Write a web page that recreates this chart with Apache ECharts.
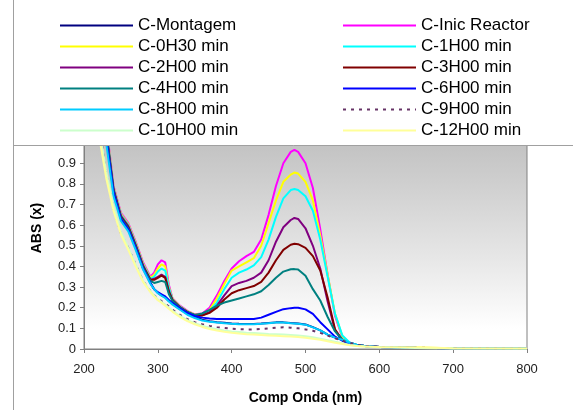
<!DOCTYPE html>
<html>
<head>
<meta charset="utf-8">
<script src="https://cdn.jsdelivr.net/npm/echarts@6/dist/echarts.min.js"></script>
<style>
  html, body { margin: 0; padding: 0; background: #ffffff; }
  #chart { width: 573px; height: 410px; }
</style>
</head>
<body>
<div id="chart"></div>
<script>
// Wavelength grid (nm) shared by every spectrum
var wavelengths = [220, 230, 240, 250, 260, 270, 280, 290, 295, 300, 305, 310, 315, 320, 330, 340, 350, 360, 370, 380, 390, 400, 410, 420, 430, 440, 450, 460, 470, 480, 485, 490, 500, 510, 520, 530, 540, 550, 560, 570, 580, 600, 650, 700, 800];

// Absorbance of each sample
var cMontagem = [1.38, 1.04, 0.77, 0.635, 0.585, 0.49, 0.39, 0.32, 0.29, 0.272, 0.26, 0.25, 0.233, 0.218, 0.193, 0.17, 0.155, 0.142, 0.135, 0.13, 0.127, 0.124, 0.122, 0.121, 0.121, 0.123, 0.126, 0.129, 0.129, 0.126, 0.125, 0.123, 0.119, 0.106, 0.09, 0.07, 0.055, 0.045, 0.03, 0.02, 0.015, 0.01, 0.006, 0.004, 0.002];
var cInicReactor = [1.45, 1.09, 0.79, 0.66, 0.61, 0.52, 0.42, 0.35, 0.37, 0.41, 0.43, 0.42, 0.31, 0.245, 0.21, 0.185, 0.168, 0.172, 0.20, 0.26, 0.33, 0.39, 0.425, 0.45, 0.47, 0.53, 0.65, 0.79, 0.90, 0.955, 0.965, 0.955, 0.90, 0.78, 0.58, 0.36, 0.16, 0.055, 0.025, 0.018, 0.014, 0.01, 0.006, 0.004, 0.002];
var c0H30 = [1.43, 1.08, 0.785, 0.655, 0.605, 0.515, 0.415, 0.345, 0.36, 0.39, 0.41, 0.40, 0.30, 0.243, 0.207, 0.183, 0.166, 0.168, 0.19, 0.245, 0.315, 0.38, 0.40, 0.42, 0.44, 0.50, 0.61, 0.72, 0.81, 0.845, 0.855, 0.85, 0.81, 0.72, 0.55, 0.36, 0.17, 0.06, 0.028, 0.02, 0.015, 0.01, 0.007, 0.004, 0.002];
var c1H00 = [1.42, 1.07, 0.78, 0.65, 0.60, 0.51, 0.41, 0.34, 0.35, 0.375, 0.39, 0.38, 0.295, 0.24, 0.205, 0.181, 0.165, 0.165, 0.185, 0.225, 0.29, 0.345, 0.37, 0.385, 0.405, 0.445, 0.53, 0.64, 0.73, 0.77, 0.775, 0.77, 0.74, 0.67, 0.53, 0.35, 0.17, 0.065, 0.03, 0.02, 0.015, 0.01, 0.006, 0.004, 0.002];
var c2H00 = [1.41, 1.06, 0.775, 0.645, 0.595, 0.505, 0.405, 0.335, 0.34, 0.35, 0.36, 0.35, 0.28, 0.237, 0.203, 0.18, 0.164, 0.164, 0.178, 0.21, 0.26, 0.305, 0.32, 0.33, 0.345, 0.37, 0.43, 0.52, 0.59, 0.625, 0.635, 0.63, 0.585, 0.50, 0.39, 0.23, 0.09, 0.042, 0.024, 0.018, 0.014, 0.01, 0.006, 0.004, 0.002];
var c3H00 = [1.40, 1.055, 0.77, 0.64, 0.59, 0.50, 0.40, 0.335, 0.335, 0.345, 0.355, 0.345, 0.275, 0.235, 0.202, 0.179, 0.163, 0.162, 0.175, 0.20, 0.24, 0.27, 0.285, 0.295, 0.305, 0.325, 0.37, 0.43, 0.48, 0.505, 0.51, 0.508, 0.49, 0.45, 0.38, 0.25, 0.096, 0.042, 0.024, 0.018, 0.014, 0.01, 0.006, 0.004, 0.002];
var c4H00 = [1.39, 1.05, 0.765, 0.635, 0.585, 0.495, 0.395, 0.33, 0.32, 0.325, 0.33, 0.325, 0.265, 0.232, 0.2, 0.178, 0.165, 0.172, 0.19, 0.21, 0.225, 0.235, 0.245, 0.255, 0.265, 0.28, 0.31, 0.345, 0.375, 0.386, 0.387, 0.385, 0.355, 0.29, 0.235, 0.155, 0.085, 0.045, 0.025, 0.018, 0.014, 0.01, 0.006, 0.004, 0.002];
var c6H00 = [1.36, 1.03, 0.76, 0.63, 0.58, 0.49, 0.39, 0.32, 0.29, 0.275, 0.265, 0.255, 0.238, 0.222, 0.197, 0.175, 0.16, 0.152, 0.148, 0.145, 0.145, 0.145, 0.145, 0.145, 0.145, 0.152, 0.166, 0.18, 0.193, 0.198, 0.2, 0.2, 0.192, 0.17, 0.13, 0.095, 0.06, 0.04, 0.025, 0.018, 0.014, 0.01, 0.006, 0.004, 0.002];
var c8H00 = [1.30, 1.0, 0.74, 0.62, 0.57, 0.48, 0.385, 0.315, 0.29, 0.27, 0.258, 0.247, 0.23, 0.215, 0.19, 0.166, 0.15, 0.138, 0.132, 0.128, 0.125, 0.122, 0.12, 0.12, 0.12, 0.122, 0.125, 0.128, 0.128, 0.125, 0.124, 0.122, 0.118, 0.105, 0.09, 0.07, 0.055, 0.045, 0.03, 0.02, 0.015, 0.01, 0.006, 0.004, 0.002];
var c9H00 = [1.10, 0.85, 0.68, 0.56, 0.49, 0.41, 0.33, 0.28, 0.26, 0.245, 0.232, 0.22, 0.205, 0.19, 0.165, 0.145, 0.13, 0.12, 0.112, 0.106, 0.102, 0.098, 0.096, 0.095, 0.095, 0.097, 0.1, 0.103, 0.105, 0.103, 0.101, 0.1, 0.095, 0.088, 0.078, 0.065, 0.052, 0.04, 0.03, 0.02, 0.015, 0.01, 0.006, 0.004, 0.002];
var c10H00 = [1.08, 0.86, 0.69, 0.57, 0.49, 0.41, 0.33, 0.28, 0.26, 0.24, 0.228, 0.215, 0.2, 0.185, 0.16, 0.14, 0.125, 0.113, 0.103, 0.096, 0.09, 0.085, 0.082, 0.079, 0.077, 0.075, 0.073, 0.072, 0.07, 0.068, 0.067, 0.066, 0.062, 0.057, 0.05, 0.043, 0.035, 0.028, 0.02, 0.015, 0.012, 0.008, 0.005, 0.003, 0.002];
var c12H00 = [1.04, 0.83, 0.67, 0.555, 0.48, 0.40, 0.325, 0.275, 0.255, 0.236, 0.224, 0.21, 0.195, 0.18, 0.155, 0.135, 0.12, 0.107, 0.097, 0.09, 0.084, 0.079, 0.075, 0.072, 0.07, 0.068, 0.066, 0.064, 0.062, 0.06, 0.059, 0.058, 0.055, 0.05, 0.045, 0.038, 0.03, 0.024, 0.018, 0.014, 0.012, 0.01, 0.008, 0.004, 0.002];

var seriesNames = ['C-Montagem', 'C-Inic Reactor', 'C-0H30 min', 'C-1H00 min', 'C-2H00 min', 'C-3H00 min', 'C-4H00 min', 'C-6H00 min', 'C-8H00 min', 'C-9H00 min', 'C-10H00 min', 'C-12H00 min'];
var seriesValues = [cMontagem, cInicReactor, c0H30, c1H00, c2H00, c3H00, c4H00, c6H00, c8H00, c9H00, c10H00, c12H00];
var seriesColors = ['#000080', '#ff00ff', '#ffff00', '#00ffff', '#800080', '#800000', '#008080', '#0000ff', '#00ccff', '#663366', '#ccffcc', '#ffff99'];

var xTicks = [200, 300, 400, 500, 600, 700, 800];
var yTicks = [0, 0.1, 0.2, 0.3, 0.4, 0.5, 0.6, 0.7, 0.8, 0.9, 1];

var FONT = '"Liberation Sans", Arial, sans-serif';

var series = seriesNames.map(function (name, i) {
  return {
    name: name,
    type: 'line',
    symbol: 'none',
    clip: true,
    data: wavelengths.map(function (w, j) { return [w, seriesValues[i][j]]; }),
    lineStyle: {
      color: seriesColors[i],
      width: 2,
      type: name === 'C-9H00 min' ? [3, 5] : 'solid'
    },
    itemStyle: { color: seriesColors[i] }
  };
});

// Legend entries show only the line sample, no marker
var legendBase = {
  orient: 'vertical',
  top: 17,
  padding: 0,
  itemWidth: 73,
  itemHeight: 14,
  itemGap: 4,
  selectedMode: false,
  z: 10,
  itemStyle: { opacity: 0 },
  textStyle: { fontSize: 17, lineHeight: 17, color: '#000', fontFamily: FONT }
};

var chart = echarts.init(document.getElementById('chart'), null, { renderer: 'canvas' });
chart.setOption({
  animation: false,
  backgroundColor: '#ffffff',
  grid: {
    left: 84, right: 46, top: 142.6, bottom: 60,
    show: true,
    borderColor: '#808080',
    borderWidth: 1,
    backgroundColor: {
      type: 'linear', x: 0, y: 0, x2: 0, y2: 1,
      colorStops: [
        { offset: 0, color: '#c2c2c2' },
        { offset: 0.55, color: '#e6e6e6' },
        { offset: 0.9, color: '#ffffff' },
        { offset: 1, color: '#ffffff' }
      ]
    }
  },
  legend: [
    Object.assign({}, legendBase, {
      left: 59,
      data: [seriesNames[0], seriesNames[2], seriesNames[4], seriesNames[6], seriesNames[8], seriesNames[10]]
    }),
    Object.assign({}, legendBase, {
      left: 342,
      data: [seriesNames[1], seriesNames[3], seriesNames[5], seriesNames[7], seriesNames[9], seriesNames[11]]
    })
  ],
  xAxis: {
    type: 'value',
    min: xTicks[0],
    max: xTicks[xTicks.length - 1],
    interval: 100,
    name: 'Comp Onda (nm)',
    nameLocation: 'middle',
    nameGap: 42,
    nameTextStyle: { fontSize: 14, fontWeight: 'bold', color: '#000', fontFamily: FONT },
    axisLine: { lineStyle: { color: '#808080', width: 1 } },
    axisTick: { show: true, length: 4, lineStyle: { color: '#808080' } },
    axisLabel: { margin: 14, fontSize: 13, color: '#222', fontFamily: FONT },
    splitLine: { show: false }
  },
  yAxis: {
    type: 'value',
    min: yTicks[0],
    max: yTicks[yTicks.length - 1],
    interval: 0.1,
    axisLine: { show: true, lineStyle: { color: '#808080', width: 1 } },
    axisTick: { show: true, length: 4, lineStyle: { color: '#808080' } },
    axisLabel: {
      margin: 8, fontSize: 13, color: '#222', fontFamily: FONT,
      showMaxLabel: false,
      formatter: function (v) { return v === 0 ? '0' : (Math.round(v * 10) / 10).toString(); }
    },
    splitLine: { show: false }
  },
  graphic: [
    {
      type: 'rect',
      z: 5,
      shape: { x: 13.5, y: -5, width: 570, height: 150.5 },
      style: { fill: '#ffffff', stroke: '#a0a0a0', lineWidth: 1 }
    },
    {
      type: 'line',
      z: 5,
      shape: { x1: 13.5, y1: 0, x2: 13.5, y2: 410 },
      style: { stroke: '#a0a0a0', lineWidth: 1 }
    },
    {
      type: 'text',
      z: 6,
      x: 37,
      y: 228,
      rotation: Math.PI / 2,
      style: {
        text: 'ABS (x)',
        font: 'bold 14px ' + FONT,
        fill: '#000',
        align: 'center',
        verticalAlign: 'middle'
      }
    }
  ],
  series: series
});
</script>
</body>
</html>
